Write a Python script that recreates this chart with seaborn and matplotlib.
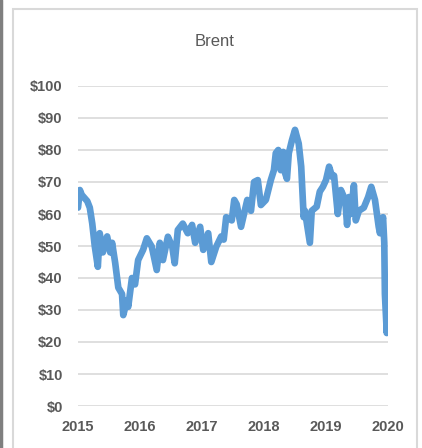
import matplotlib
matplotlib.use("Agg")
import pandas as pd
import seaborn as sns
import matplotlib.pyplot as plt
from matplotlib.patches import Rectangle
from matplotlib.lines import Line2D

# Brent price (decimal year, $/bbl)
years = [
    2015.00, 2015.03, 2015.06, 2015.15, 2015.19, 2015.23, 2015.27, 2015.32,
    2015.35, 2015.40, 2015.47, 2015.52, 2015.55, 2015.60, 2015.65, 2015.71,
    2015.73, 2015.79, 2015.81, 2015.87, 2015.92, 2015.97, 2016.05, 2016.11,
    2016.19, 2016.27, 2016.32, 2016.37, 2016.45, 2016.52, 2016.56, 2016.61,
    2016.69, 2016.77, 2016.84, 2016.89, 2016.97, 2017.02, 2017.10, 2017.15,
    2017.23, 2017.31, 2017.35, 2017.39, 2017.48, 2017.52, 2017.56, 2017.63,
    2017.73, 2017.79, 2017.84, 2017.90, 2017.95, 2018.03, 2018.11, 2018.16,
    2018.19, 2018.23, 2018.27, 2018.31, 2018.34, 2018.37, 2018.40, 2018.45,
    2018.50, 2018.56, 2018.60, 2018.64, 2018.66, 2018.74, 2018.77, 2018.85,
    2018.90, 2018.95, 2019.00, 2019.05, 2019.10, 2019.13, 2019.19, 2019.24,
    2019.31, 2019.34, 2019.37, 2019.40, 2019.45, 2019.48, 2019.53, 2019.61,
    2019.68, 2019.73, 2019.79, 2019.85, 2019.87, 2019.92, 2019.94, 2019.95,
    2019.97, 2019.98, 2019.99, 2020.00,
]
prices = [
    62, 67.5, 66, 64, 62, 57, 50, 43.5,
    54, 48, 53, 48, 51, 44.7, 37, 35,
    28.4, 33, 31, 40, 38, 45.6, 48.8, 52.4,
    49.8, 42.5, 51, 45.6, 52.9, 49.8, 44.6, 55,
    57, 54, 56.6, 51, 56, 48.8, 54, 45,
    49.8, 53, 52, 59, 58, 64.4, 63, 56,
    64.4, 61, 70, 70.6, 62.8, 64.4, 70.6, 73.7,
    79, 80, 73.7, 79.4, 72.8, 71, 79, 83,
    86.3, 82, 74.8, 59, 61, 51, 61, 62.3,
    67, 68.5, 70.6, 74.8, 71.6, 72, 60, 67.5,
    64.4, 56.6, 65.3, 60, 69, 58, 61, 62,
    65.3, 68.5, 64.4, 56, 54, 59, 51, 35,
    27, 22.8, 33, 27.5,
]
df = pd.DataFrame({"year": years, "price": prices})

year_ticks = [2015, 2016, 2017, 2018, 2019, 2020]
price_ticks = list(range(0, 101, 10))

sns.set_style("white")
plt.rcParams["font.family"] = ["Liberation Sans", "DejaVu Sans"]

fig = plt.figure(figsize=(4.22, 4.48), dpi=100)
ax = fig.add_axes([78 / 422, 1 - 406 / 448, 310 / 422, 320 / 448])

# chart frame like the spreadsheet export
fig.patches.append(Rectangle((13 / 422, -0.05), 404 / 422, 1 - 9 / 448 + 0.05,
                             transform=fig.transFigure, fill=False,
                             edgecolor="#d9d9d9", linewidth=1.5))
fig.lines.append(Line2D([0.002, 0.002], [0, 1], transform=fig.transFigure,
                        color="#7f7f7f", linewidth=2.5))

sns.lineplot(data=df, x="year", y="price", ax=ax, color="#5b9bd5",
             linewidth=4.8, solid_capstyle="round", solid_joinstyle="round")

ax.set_xlim(2015, 2020)
ax.set_ylim(0, 100)
ax.set_yticks(price_ticks)
ax.set_yticklabels([f"${v}" for v in price_ticks])
ax.set_xticks(year_ticks)
ax.set_xticklabels([str(y) for y in year_ticks])
ax.grid(axis="y", color="#d9d9d9", linewidth=1.2)
ax.grid(axis="x", visible=False)
ax.set_axisbelow(True)
for s in ax.spines.values():
    s.set_visible(False)
ax.tick_params(axis="both", length=0, labelsize=10.5, labelcolor="#595959")
ax.tick_params(axis="y", pad=11)
ax.tick_params(axis="x", pad=10)
for lab in ax.get_xticklabels() + ax.get_yticklabels():
    lab.set_fontweight("bold")
ax.set_xlabel("")
ax.set_ylabel("")

fig.text(215 / 422, 1 - 42 / 448, "Brent", ha="center", va="center",
         fontsize=12, color="#595959")

fig.savefig("out.png", dpi=100, facecolor="white")
